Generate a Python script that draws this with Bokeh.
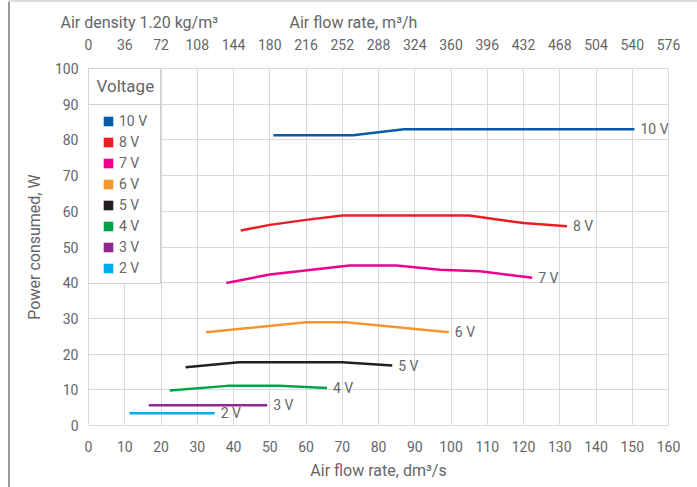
from bokeh.plotting import figure
from bokeh.models import (Range1d, LinearAxis, FixedTicker, Legend, LegendItem,
                          Label, BoxAnnotation)
from bokeh.core.properties import value
from bokeh.embed import file_html
from bokeh.resources import INLINE

# ---------------- data ----------------
voltages = ["10 V", "8 V", "7 V", "6 V", "5 V", "4 V", "3 V", "2 V"]
colors = ["#0a5aa5", "#ec1c24", "#ec008c", "#f39531", "#231f20", "#00a14b", "#92278f", "#00adef"]

flow_10v = [51, 73, 87, 150.6]
power_10v = [81.3, 81.3, 83.0, 83.0]
flow_8v = [42, 50, 60, 70, 105, 120, 132]
power_8v = [54.6, 56.2, 57.6, 58.8, 58.8, 56.7, 55.8]
flow_7v = [38, 50, 72, 85, 97, 108, 122.4]
power_7v = [39.9, 42.3, 44.8, 44.8, 43.6, 43.2, 41.4]
flow_6v = [32.4, 60, 71, 99.4]
power_6v = [26.1, 28.9, 28.9, 26.1]
flow_5v = [26.8, 41.5, 70, 83.8]
power_5v = [16.3, 17.7, 17.7, 16.8]
flow_4v = [22.4, 38.3, 52.5, 65.8]
power_4v = [9.8, 11.1, 11.1, 10.5]
flow_3v = [16.6, 49.3]
power_3v = [5.7, 5.7]
flow_2v = [11.3, 34.8]
power_2v = [3.4, 3.4]

x_ticks = [0, 10, 20, 30, 40, 50, 60, 70, 80, 90, 100, 110, 120, 130, 140, 150, 160]
y_ticks = [0, 10, 20, 30, 40, 50, 60, 70, 80, 90, 100]
top_tick_labels = ["0", "36", "72", "108", "144", "180", "216", "252", "288", "324",
                   "360", "396", "432", "468", "504", "540", "576"]

flows = [flow_10v, flow_8v, flow_7v, flow_6v, flow_5v, flow_4v, flow_3v, flow_2v]
powers = [power_10v, power_8v, power_7v, power_6v, power_5v, power_4v, power_3v, power_2v]

FONT = "Roboto"
TXT = "#666666"
GRID = "#d9d9d9"
NBSP = "\u00a0"

p = figure(frame_width=580, frame_height=357,
           min_border_left=88, min_border_right=29, min_border_top=68, min_border_bottom=62,
           x_range=Range1d(0, 160), y_range=Range1d(0, 100),
           output_backend="svg", toolbar_location=None,
           x_axis_location="below")
p.outline_line_color = GRID
p.background_fill_color = "white"
p.border_fill_alpha = 0.0
p.styles = {"background": "linear-gradient(#dddddd,#dddddd) 8px 0 / 100% 2px no-repeat, "
                          "linear-gradient(#9a9a9a,#9a9a9a) 8px 0 / 2px 100% no-repeat, #ffffff"}

for g in (p.xgrid[0], p.ygrid[0]):
    g.grid_line_color = GRID
    g.grid_line_width = 1
p.xgrid[0].ticker = FixedTicker(ticks=x_ticks)
p.ygrid[0].ticker = FixedTicker(ticks=y_ticks)


def style_axis(ax):
    ax.axis_line_color = None
    ax.major_tick_line_color = None
    ax.minor_tick_line_color = None
    ax.major_tick_in = 0
    ax.major_tick_out = 0
    ax.major_label_text_font = FONT
    ax.major_label_text_font_size = "14px"
    ax.major_label_text_color = TXT
    ax.axis_label_text_font = FONT
    ax.axis_label_text_font_size = "16px"
    ax.axis_label_text_font_style = "normal"
    ax.axis_label_text_color = TXT


xa = p.xaxis[0]
style_axis(xa)
xa.ticker = FixedTicker(ticks=x_ticks)
xa.major_label_standoff = 15
xa.axis_label = "Air flow rate, dm³/s"
xa.axis_label_standoff = 6

ya = p.yaxis[0]
style_axis(ya)
ya.ticker = FixedTicker(ticks=y_ticks)
ya.major_label_standoff = 10
ya.axis_label = "Power consumed, W"
ya.axis_label_standoff = 8

top = LinearAxis(ticker=FixedTicker(ticks=x_ticks),
                 major_label_overrides={t: l for t, l in zip(x_ticks, top_tick_labels)})
style_axis(top)
top.major_label_standoff = 19
p.add_layout(top, "above")

# header line (air density + top axis title)
p.title.text = "Air density 1.20 kg/m³" + NBSP * 18 + "Air flow rate, m³/h"
p.title.align = "left"
p.title.offset = -28
p.title.standoff = 7
p.title.text_font = FONT
p.title.text_font_size = "16px"
p.title.text_font_style = "normal"
p.title.text_color = TXT

# ---------------- lines ----------------
for fx, py, c in zip(flows, powers, colors):
    p.line(fx, py, line_color=c, line_width=2.5)

p.text(x=[f[-1] for f in flows], y=[v[-1] for v in powers], text=voltages,
       x_offset=6, text_baseline="middle", text_align="left",
       text_font=value(FONT), text_font_size="14px", text_color=TXT)

# ---------------- legend ----------------
swatches = []
for c in colors:
    r = p.quad(left=[float("nan")], right=[float("nan")], top=[float("nan")],
               bottom=[float("nan")], fill_color=c, line_color=None)
    swatches.append(r)

box = BoxAnnotation(left=0, right=72, top=357, bottom=142,
                    left_units="screen", right_units="screen",
                    top_units="screen", bottom_units="screen",
                    fill_color="white", fill_alpha=1.0,
                    line_color="#cfcfcf", line_alpha=1.0, line_width=1)
sep = BoxAnnotation(left=0, right=72, top=357, bottom=321,
                    left_units="screen", right_units="screen",
                    top_units="screen", bottom_units="screen",
                    fill_alpha=0.0, line_color="#cfcfcf", line_alpha=1.0, line_width=1)
p.add_layout(box)
p.add_layout(sep)
p.add_layout(Label(x=8, y=340, x_units="screen", y_units="screen", text="Voltage",
                   text_baseline="middle", text_font=FONT, text_font_size="17px",
                   text_color=TXT))

legend = Legend(items=[LegendItem(label=v, renderers=[r]) for v, r in zip(voltages, swatches)],
                location=(14, 149), padding=0, margin=0,
                border_line_color=None, background_fill_alpha=0.0,
                glyph_width=12, glyph_height=12, label_standoff=5,
                label_height=14, spacing=5,
                label_text_font=FONT, label_text_font_size="14px", label_text_color=TXT)
p.add_layout(legend)

open("out.html", "w").write(file_html(p, INLINE))
